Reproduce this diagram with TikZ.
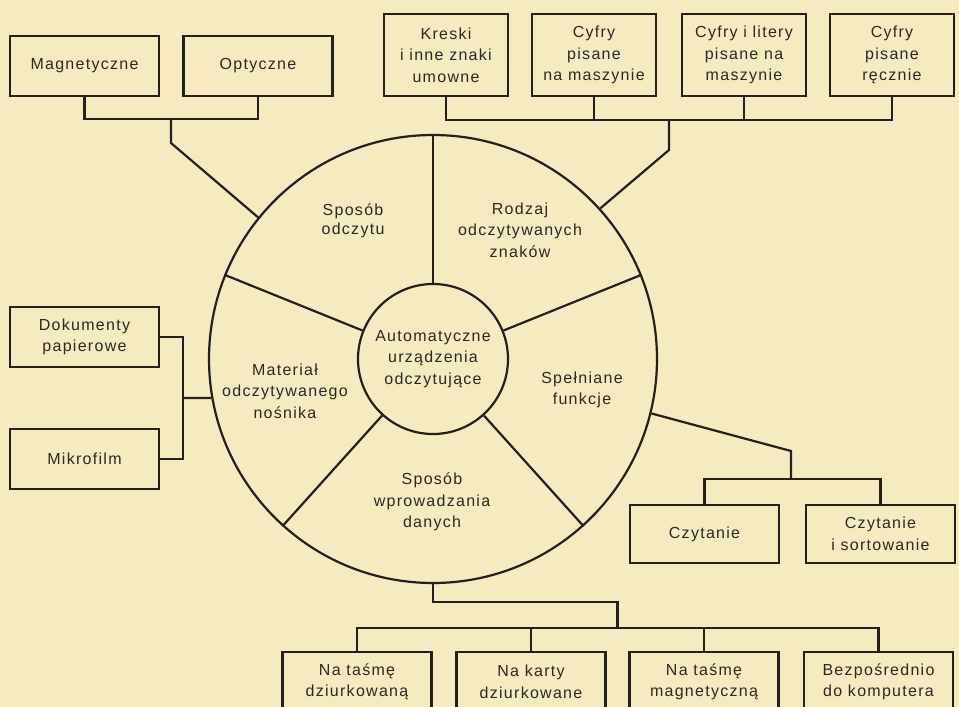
\documentclass[tikz,border=0pt]{standalone}
\usepackage{fontspec}
\setmainfont{Liberation Sans}[LetterSpace=8]
\definecolor{paper}{RGB}{246,234,192}
\definecolor{inkc}{RGB}{36,32,28}
\definecolor{txtc}{RGB}{44,40,36}
\begin{document}
\begin{tikzpicture}[x=1pt,y=-1pt,
  ink/.style={line width=2.2pt, draw=inkc},
  lbl/.style={text=txtc, align=center, font=\fontsize{16}{21.5}\selectfont},
  widebox/.style={ink, lbl, rectangle, minimum width=149pt, minimum height=60pt, inner sep=0pt},
  tallbox/.style={ink, lbl, rectangle, minimum width=124pt, minimum height=82pt, inner sep=0pt},
  lowbox/.style={widebox, minimum height=58pt},
  wire/.style={ink, line join=miter}]
\fill[paper] (0,0) rectangle (959,707);
\useasboundingbox (0,0) rectangle (959,707);
\clip (0,0) rectangle (959,707);

% wheel
\node[ink, circle, minimum size=448pt, inner sep=0pt] (outer) at (433,359) {};
\node[ink, lbl, circle, minimum size=150pt, inner sep=0pt] (inner) at (433,359)
  {Automatyczne\\urządzenia\\odczytujące};
\foreach \a in {90,22,158,228,-48}
  \draw[wire] (inner.\a) -- (outer.\a);

% sector labels
\node[lbl, font=\fontsize{16}{18.5}\selectfont] (sodcz) at (353,221) {Sposób\\odczytu};
\node[lbl] (rodz) at (520,230) {Rodzaj\\odczytywanych\\znaków};
\node[lbl] (mat) at (285,391) {Materiał\\odczytywanego\\nośnika};
\node[lbl] (funk) at (582,390) {Spełniane\\funkcje};
\node[lbl] (wpr) at (432,502) {Sposób\\wprowadzania\\danych};

% top left group
\node[widebox] (magn) at (84.5,66) {Magnetyczne};
\node[widebox] (opt) at (258,66) {Optyczne};
\coordinate (tlhub) at (171,119);
\draw[wire] (magn.south) |- (tlhub) -| (opt.south);
\draw[wire] (tlhub) -- ++(0,24) -- (outer.141);

% top right group
\node[tallbox] (kre) at (446,55) {Kreski\\i inne znaki\\umowne};
\node[tallbox] (cy1) at (594,55) {Cyfry\\pisane\\na maszynie};
\node[tallbox] (cy2) at (744,55) {Cyfry i litery\\pisane na\\maszynie};
\node[tallbox] (rec) at (892,55) {Cyfry\\pisane\\ręcznie};
\coordinate (trhub) at (669,120);
\draw[wire] (kre.south) |- (trhub) -| (rec.south);
\draw[wire] (cy1.south) -- (cy1.south |- trhub);
\draw[wire] (cy2.south) -- (cy2.south |- trhub);
\draw[wire] (trhub) -- ++(0,30) -- (outer.42);

% left group
\node[widebox] (dok) at (84.5,337) {Dokumenty\\papierowe};
\node[widebox] (mik) at (84.5,459) {Mikrofilm};
\coordinate (lhub) at (183,398);
\draw[wire] (dok.east) -| (lhub) |- (mik.east);
\draw[wire] (lhub) -- (outer.190);

% right group
\node[lowbox] (czy) at (704.5,534) {Czytanie};
\node[lowbox] (cso) at (880.5,534) {Czytanie\\i sortowanie};
\coordinate (rbend) at (791,451);
\coordinate (rhub) at (791,479);
\draw[wire] (outer.-14.5) -- (rbend) -- (rhub);
\draw[wire] (czy.north) |- (rhub) -| (cso.north);

% bottom group
\node[widebox] (b1) at (357,682) {Na taśmę\\dziurkowaną};
\node[widebox] (b2) at (531,682) {Na karty\\dziurkowane};
\node[widebox] (b3) at (704,682) {Na taśmę\\magnetyczną};
\node[widebox] (b4) at (878.5,682) {Bezpośrednio\\do komputera};
\coordinate (bbend) at (617.5,602);
\coordinate (bhub) at (617.5,628);
\draw[wire] (outer.south) |- (bbend) -- (bhub);
\draw[wire] (b1.north) |- (bhub) -| (b4.north);
\draw[wire] (b2.north) -- (b2.north |- bhub);
\draw[wire] (b3.north) -- (b3.north |- bhub);
\end{tikzpicture}
\end{document}
